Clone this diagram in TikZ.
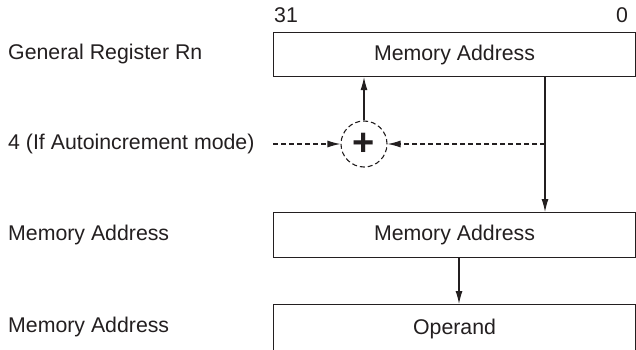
\documentclass[tikz,border=0pt]{standalone}
\usepackage{fontspec}
\setmainfont{Liberation Sans}
\usetikzlibrary{arrows.meta}
\definecolor{ink}{HTML}{231F20}
\begin{document}
\begin{tikzpicture}[x=1pt,y=-1pt,
  font=\fontsize{21.3}{25}\selectfont,
  every node/.style={text=ink},
  regbox/.style={draw=ink, line width=1.1pt, minimum width=362pt, inner sep=0pt, anchor=north west},
  lbl/.style={anchor=west, inner sep=0pt},
  arr/.style={draw=ink, line width=1.1pt, -{Latex[length=13pt,width=7pt]}},
  dasharr/.style={arr, dash pattern=on 5pt off 3pt},
  adder/.style={draw=ink, circle, line width=1.1pt, dash pattern=on 5pt off 3pt, minimum size=46pt, inner sep=0pt}
]
\clip (0,0) rectangle (636,350);
\fill[white] (0,0) rectangle (636,350);
% boxes
\node[regbox, minimum height=44pt] (box1) at (273,32) {Memory Address};
\node[regbox, minimum height=45pt] (box2) at (273,212) {Memory Address};
\node[regbox, minimum height=48pt] (box3) at (273,304) {Operand};
% bit labels
\node[inner sep=0pt] (b31) at (286,15) {31};
\node[inner sep=0pt] (b0) at (622,15) {0};
% left labels
\node[lbl] (l1) at (8,54) {General Register Rn};
\node[lbl] (l2) at (8,144) {4 (If Autoincrement mode)};
\node[lbl] (l3) at (8,235) {Memory Address};
\node[lbl] (l4) at (8,327) {Memory Address};
% adder
\node[adder] (plus) at (364,144) {\fontsize{38}{38}\selectfont\bfseries +};
\coordinate (j) at (545,144);
\coordinate (s) at (273,144);
\coordinate (m) at (459,0);
% connectors
\draw[arr] (plus.north) -- (plus.north |- box1.south);
\draw[arr] (box1.south -| j) -- (box2.north -| j);
\draw[dasharr] (j) -- (plus.east);
\draw[dasharr] (s) -- (plus.west);
\draw[arr] (box2.south -| m) -- (box3.north -| m);
\end{tikzpicture}
\end{document}
